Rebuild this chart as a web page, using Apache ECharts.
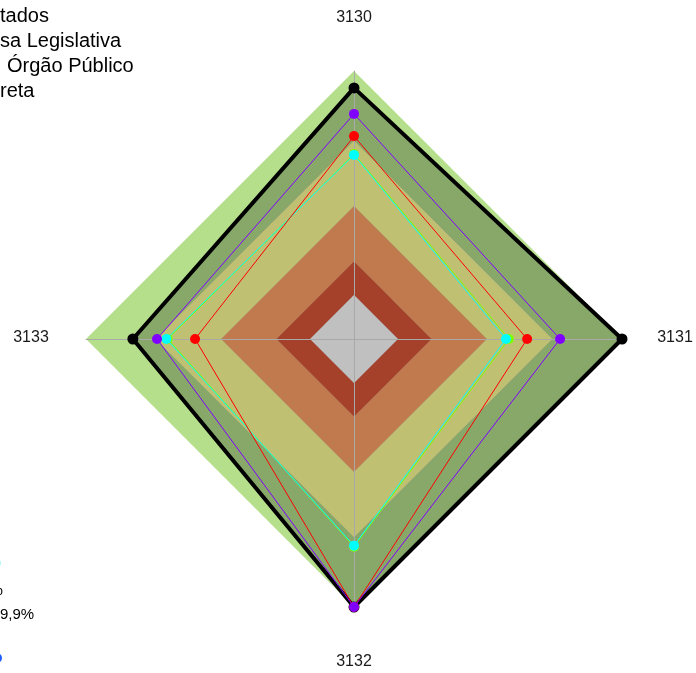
<!DOCTYPE html>
<html>
<head>
<meta charset="utf-8">
<script src="https://cdn.jsdelivr.net/npm/echarts@6/dist/echarts.min.js"></script>
<style>
html,body{margin:0;padding:0;background:#fff;}
#c{width:696px;height:673px;}
</style>
</head>
<body>
<div id="c"></div>
<script>
// Indicators in drawing order (top, then counter-clockwise: left, bottom, right)
var indicatorNames = ['3130', '3133', '3132', '3131'];

// Background performance bands (fraction of full scale)
var bandLevels = [1.0, 0.74, 0.495, 0.289, 0.164];
var bandColors = ['#b6df8c', '#c0c072', '#c07a4e', '#a5412b', '#c0c0c0'];

// Series values, in indicator order [3130, 3133, 3132, 3131]
var seriesBlack  = [0.937, 0.825, 1.000, 1.000];
var seriesLime   = [0.690, 0.695, 0.775, 0.578];
var seriesCyan   = [0.687, 0.700, 0.771, 0.567];
var seriesRed    = [0.757, 0.593, 1.000, 0.646];
var seriesPurple = [0.840, 0.735, 1.000, 0.769];

// Visible (cropped) legend texts
var legendTop = ['tados', 'sa Legislativa', 'Órgão Público', 'reta'];
var legendBottom = ['%', '9,9%'];

var labelPos = {'3130': [354, 18], '3131': [675, 338], '3132': [354, 662], '3133': [31, 338]};

var chart = echarts.init(document.getElementById('c'), null, {renderer: 'canvas'});

var indicator = indicatorNames.map(function (n) { return {name: n, min: 0, max: 1}; });

function radarBase(extra) {
  var o = {
    indicator: indicator,
    center: [354, 339],
    radius: 268,
    shape: 'polygon',
    startAngle: 90,
    splitNumber: 1,
    axisName: {show: false},
    splitLine: {show: false},
    splitArea: {show: false},
    axisLine: {show: false},
    axisTick: {show: false},
    axisLabel: {show: false}
  };
  for (var k in extra) o[k] = extra[k];
  return o;
}

var series = [];
// light green outer band
series.push({
  type: 'radar', radarIndex: 0, z: 1, silent: true, symbol: 'none',
  lineStyle: {width: 0},
  areaStyle: {color: bandColors[0], opacity: 1},
  data: [{value: indicatorNames.map(function () { return bandLevels[0]; })}]
});
// dark green area of the black series
series.push({
  type: 'radar', radarIndex: 0, z: 2, silent: true, symbol: 'none',
  lineStyle: {width: 0},
  areaStyle: {color: '#88a86a', opacity: 1},
  data: [{value: seriesBlack}]
});
// inner bands
for (var i = 1; i < bandLevels.length; i++) {
  series.push({
    type: 'radar', radarIndex: 0, z: 2 + i, silent: true, symbol: 'none',
    lineStyle: {width: 0.6, color: 'rgba(140,140,140,0.6)'},
    areaStyle: {color: bandColors[i], opacity: 1},
    data: [{value: indicatorNames.map(function () { return bandLevels[i]; })}]
  });
}

function lineSeries(vals, color, width, size, z) {
  return {
    type: 'radar', radarIndex: 0, z: z, symbol: 'circle', symbolSize: size,
    lineStyle: {color: color, width: width},
    itemStyle: {color: color},
    data: [{value: vals}]
  };
}
series.push(lineSeries(seriesBlack, '#000000', 4, 11, 10));
series.push(lineSeries(seriesLime, '#80ff00', 1, 10, 11));
series.push(lineSeries(seriesCyan, '#00ffff', 1, 10, 12));
series.push(lineSeries(seriesRed, '#ff0000', 1, 10, 13));
series.push(lineSeries(seriesPurple, '#8000ff', 1, 10, 14));

var graphics = [];
indicatorNames.forEach(function (n) {
  graphics.push({
    type: 'text', x: labelPos[n][0], y: labelPos[n][1], silent: true,
    style: {text: n, fill: '#1a1a1a', font: '16px "Liberation Sans", Arial, sans-serif', align: 'center', verticalAlign: 'middle'}
  });
});
var legX = [0, 0, 7, 0];
legendTop.forEach(function (t, i) {
  graphics.push({
    type: 'text', x: legX[i], y: 16 + i * 25, silent: true,
    style: {text: t, fill: '#000', font: '20px "Liberation Sans", Arial, sans-serif', align: 'left', verticalAlign: 'middle'}
  });
});
graphics.push({
  type: 'text', x: 3, y: 591, silent: true,
  style: {text: legendBottom[0], fill: '#000', font: '16px "Liberation Sans", Arial, sans-serif', align: 'right', verticalAlign: 'middle'}
});
graphics.push({
  type: 'text', x: 0, y: 615, silent: true,
  style: {text: legendBottom[1], fill: '#000', font: '15px "Liberation Sans", Arial, sans-serif', align: 'left', verticalAlign: 'middle'}
});
graphics.push({type: 'circle', shape: {cx: -3, cy: 658, r: 5}, style: {fill: '#1f5fff'}, silent: true});
graphics.push({type: 'circle', shape: {cx: -4, cy: 563, r: 5}, style: {fill: '#aef7f7'}, silent: true});

chart.setOption({
  animation: false,
  backgroundColor: '#ffffff',
  radar: [
    radarBase({z: 1}),
    radarBase({z: 8, axisLine: {show: true, lineStyle: {color: '#a9a9a9', width: 1}}})
  ],
  series: series,
  graphic: graphics
});
</script>
</body>
</html>
